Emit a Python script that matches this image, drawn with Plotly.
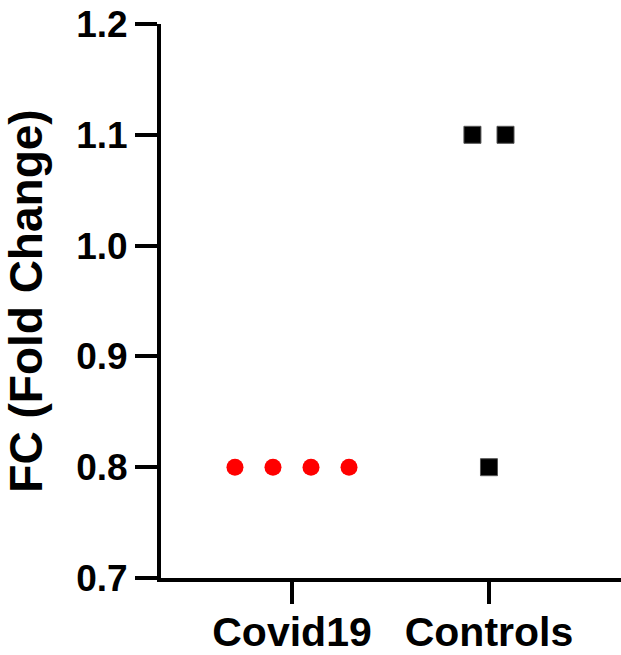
import plotly.graph_objects as go
from collections import Counter

# ---- data ----
categories = ["Covid19", "Controls"]
covid_values = [0.8, 0.8, 0.8, 0.8]
control_values = [1.1, 1.1, 0.8]
y_ticks = [0.7, 0.8, 0.9, 1.0, 1.1, 1.2]
y_title = "FC (Fold Change)"

# ---- style ----
FONT = "Liberation Sans, Arial, sans-serif"
spread = {"Covid19": 0.193, "Controls": 0.168}


def spread_positions(center, values, step):
    """Scatter-dot-plot spread: tied values are laid side by side around the category."""
    counts = Counter(values)
    seen = Counter()
    xs = []
    for v in values:
        n = counts[v]
        k = seen[v]
        seen[v] += 1
        xs.append(center + (k - (n - 1) / 2) * step)
    return xs


fig = go.Figure()
fig.add_trace(go.Scatter(
    x=spread_positions(0, covid_values, spread["Covid19"]),
    y=covid_values,
    mode="markers",
    marker=dict(symbol="circle", size=17, color="#ff0000", line=dict(width=0)),
    showlegend=False,
))
fig.add_trace(go.Scatter(
    x=spread_positions(1, control_values, spread["Controls"]),
    y=control_values,
    mode="markers",
    marker=dict(symbol="square", size=17, color="#000000",
                line=dict(width=1, color="#555555")),
    showlegend=False,
))

fig.update_layout(
    width=640, height=655,
    margin=dict(l=161, r=0, t=24, b=77, autoexpand=False),
    paper_bgcolor="white", plot_bgcolor="white",
    font=dict(family=FONT, color="black"),
)
fig.update_xaxes(
    range=[-0.665, 1.7667], automargin=False,
    tickmode="array", tickvals=[0, 1], ticktext=categories,
    showline=True, linewidth=4, linecolor="black",
    ticks="outside", ticklen=22, tickwidth=4, tickcolor="black",
    tickfont=dict(size=41, family=FONT, weight="bold"),
    ticklabelstandoff=-7,
    showgrid=False, zeroline=False,
)
fig.update_yaxes(
    range=[0.7, 1.2], automargin=False,
    tickmode="array", tickvals=y_ticks, ticktext=[f"{v:.1f}" for v in y_ticks],
    showline=True, linewidth=4, linecolor="black",
    ticks="outside", ticklen=22, tickwidth=4, tickcolor="black",
    tickfont=dict(size=37, family=FONT, weight="bold"),
    title=dict(text=y_title, font=dict(size=46, family=FONT, weight="bold"), standoff=22),
    showgrid=False, zeroline=False,
)

fig.write_html(
    "out.html",
    config={"displayModeBar": False},
    post_script=(
        "document.documentElement.style.overflow='hidden';"
        "document.body.style.margin='0px';"
        "document.body.style.overflow='hidden';"
    ),
)
